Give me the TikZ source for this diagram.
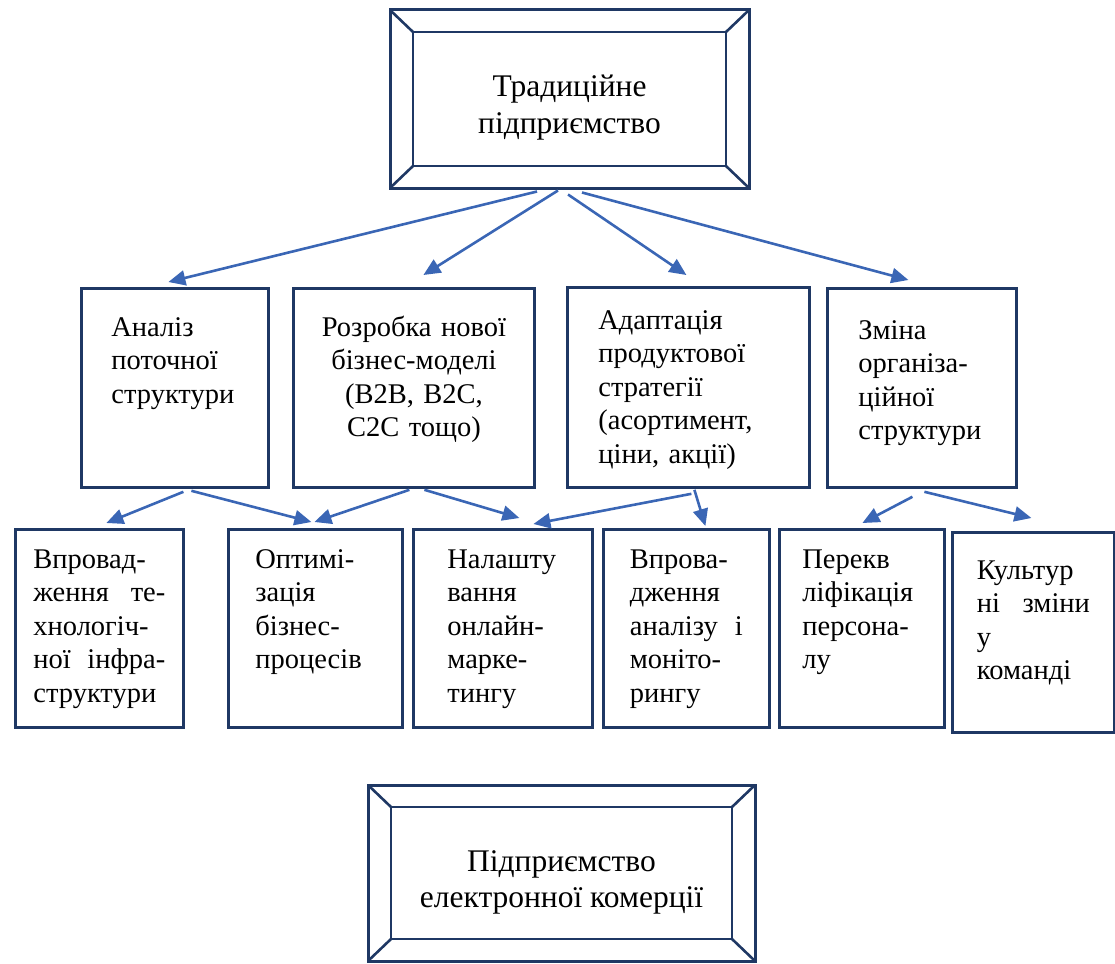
\documentclass[tikz,border=0pt]{standalone}
\usepackage{fontspec}
\setmainfont{Liberation Serif}
\usetikzlibrary{arrows.meta}
\definecolor{boxnavy}{HTML}{1F3864}
\definecolor{arrowblue}{HTML}{3A66B5}
\tikzstyle{block} = [draw=boxnavy, line width=2.8pt, anchor=north west, inner ysep=0pt, align=left, font=\fontsize{28.5}{33.5}\selectfont]
\tikzstyle{bevelbox} = [draw=boxnavy, line width=3pt, align=center, text height=76pt, text depth=8pt, font=\fontsize{31.5}{36}\selectfont, path picture={
    \draw [boxnavy, line width=2.6pt] ([shift={(23pt,-22pt)}]path picture bounding box.north west) rectangle ([shift={(-23pt,22pt)}]path picture bounding box.south east);
    \draw [boxnavy, line width=2.6pt] (path picture bounding box.north west) -- ++(23pt,-22pt)
        (path picture bounding box.north east) -- ++(-23pt,-22pt)
        (path picture bounding box.south west) -- ++(23pt,22pt)
        (path picture bounding box.south east) -- ++(-23pt,22pt);}]
\tikzstyle{arrow} = [arrowblue, line width=2.6pt, -{Triangle[length=17pt,width=15pt]}]

\begin{document}
\begin{tikzpicture}[x=1pt,y=-1pt]
        \useasboundingbox (0,0) rectangle (1115,963);

        \node (trad) [bevelbox, minimum width=359pt, minimum height=178pt] at (569.5,99) {
            Традиційне\\підприємство
        };

        \node (analiz) [block, text width=127pt, inner xsep=30pt, text height=48pt, text depth=151pt] at (80,287) {
            Аналіз\\поточної\\структури
        };

        \node (rozrobka) [block, align=center, text width=211pt, inner xsep=15pt, text height=48pt, text depth=151pt] at (292,287) {
            Розробка нової\\бізнес-моделі\\(B2B, B2C,\\C2C тощо)
        };

        \node (adapt) [block, text width=180pt, inner xsep=31pt, text height=42pt, text depth=158pt] at (566,286) {
            Адаптація\\продуктової\\стратегії\\(асортимент,\\ціни, акції)
        };

        \node (zmina) [block, text width=127pt, inner xsep=31pt, text height=51pt, text depth=148pt] at (826,287) {
            Зміна\\організа-\\ційної\\структури
        };

        \node (vprov) [block, text width=132pt, inner xsep=18pt, text height=39pt, text depth=159pt] at (14,528) {
            Впровад-\\ження\hfill те-\\хнологіч-\\ної\hfill інфра-\\структури
        };

        \node (optym) [block, text width=120pt, inner xsep=27pt, text height=39pt, text depth=159pt] at (227,528) {
            Оптимі-\\зація\\бізнес-\\процесів
        };

        \node (nalasht) [block, text width=111pt, inner xsep=34pt, text height=39pt, text depth=159pt] at (412,528) {
            Налашту\\вання\\онлайн-\\марке-\\тингу
        };

        \node (monit) [block, text width=113pt, inner xsep=26.5pt, text height=39pt, text depth=159pt] at (602,528) {
            Впрова-\\дження\\аналізу\hfill і\\моніто-\\рингу
        };

        \node (perekv) [block, text width=119pt, inner xsep=23pt, text height=39pt, text depth=159pt] at (778,528) {
            Перекв\\ліфікація\\персона-\\лу
        };

        \node (kult) [block, text width=113pt, inner xsep=24.5pt, text height=47pt, text depth=153pt] at (951,531) {
            Культур\\ні\hfill зміни\\у\\команді
        };

        \node (ecom) [bevelbox, minimum width=387pt, minimum height=176pt] at (561.5,873) {
            Підприємство\\електронної комерції
        };

        \draw [arrow] ([xshift=-32.5pt,yshift=-2pt]trad.south) -- ([xshift=-6.5pt,yshift=5pt]analiz.north);
        \draw [arrow] ([xshift=-11.5pt,yshift=-1pt]trad.south) -- ([xshift=9.5pt,yshift=12pt]rozrobka.north);
        \draw [arrow] ([xshift=-1.5pt,yshift=-5pt]trad.south) -- ([xshift=-2pt,yshift=11pt]adapt.north);
        \draw [arrow] ([xshift=12.5pt,yshift=-3pt]trad.south) -- ([xshift=-13.5pt,yshift=7pt]zmina.north);

        \draw [arrow] ([xshift=8.5pt,yshift=-3pt]analiz.south) -- ([xshift=7pt,yshift=5pt]vprov.north);
        \draw [arrow] ([xshift=16.5pt,yshift=-2pt]analiz.south) -- ([xshift=-4pt,yshift=6pt]optym.north);
        \draw [arrow] ([xshift=-4.5pt,yshift=-1pt]rozrobka.south) -- ([xshift=-1pt,yshift=6pt]optym.north);
        \draw [arrow] ([xshift=10.5pt,yshift=-1pt]rozrobka.south) -- ([xshift=16.5pt,yshift=10pt]nalasht.north);
        \draw [arrow] ([xshift=3pt,yshift=-5pt]adapt.south) -- ([xshift=30.5pt,yshift=4pt]nalasht.north);
        \draw [arrow] ([xshift=6pt,yshift=-1pt]adapt.south) -- ([xshift=19pt,yshift=2pt]monit.north);
        \draw [arrow] ([xshift=-9.5pt,yshift=-8pt]zmina.south) -- ([xshift=0.5pt,yshift=5pt]perekv.north);
        \draw [arrow] ([xshift=2.5pt,yshift=-3pt]zmina.south) -- ([xshift=-2pt,yshift=13pt]kult.north);
    \end{tikzpicture}
\end{document}
